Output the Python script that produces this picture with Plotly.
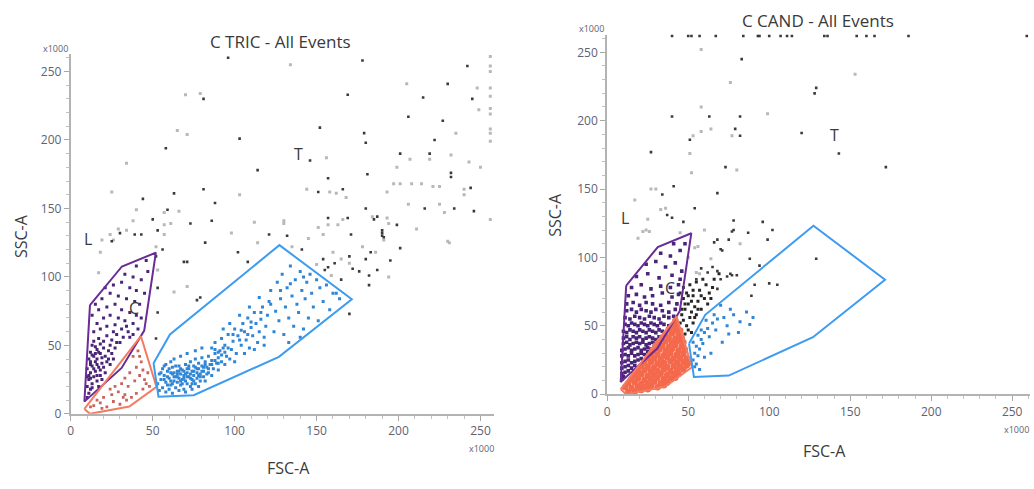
import plotly.graph_objects as go

W, H = 1034, 489

# ---------------- gates (data units x1000) ----------------
gate_L = [(11.7, 79.4), (31.2, 107.6), (51.9, 117.7), (44.8, 60.8), (31, 33.5), (8.3, 8.9)]
gate_C = [(8.3, 3.6), (42.8, 56.7), (52.3, 19.7), (35.7, 5.3), (11.7, 0)]
gate_T = [(50.5, 37), (60.5, 58), (127.3, 123.2), (171.5, 83.7), (127, 41.6), (75, 13.6), (53.5, 12.5)]

tick_vals = [0, 50, 100, 150, 200, 250]
tick_text = ["0", "50", "100", "150", "200", "250"]

# ---------------- C TRIC (left) ----------------
tric_purple = [(10,12),(11,15),(12,18),(10,20),(13,22),(11,25),(14,27),(12,30),(10,33),(13,35),(15,38),(11,40),
    (14,42),(12,45),(16,47),(13,50),(17,20),(16,24),(18,28),(15,31),(17,34),(19,37),(16,40),(18,44),(20,48),
    (14,53),(17,55),(19,25),(21,30),(20,34),(22,38),(21,42),(23,46),(24,50),(20,53),(22,57),(25,54),(26,60),
    (11,28),(12,36),(13,43),(15,44),(16,36),(18,32),(14,33),(12,26),(13,19),(16,28),(19,41),(23,40),(25,44),
    (27,48),(28,52),(24,36),(26,40),(12,38),(10,27),(15,49),(17,45),(18,51),
    (14,60),(18,62),(22,64),(27,65),(31,62),(35,60),(16,66),(20,70),(24,72),(29,70),(33,68),(38,66),(13,72),
    (17,76),(22,78),(27,80),(31,76),(36,74),(40,72),(19,84),(24,88),(29,86),(34,84),(39,82),(43,70),(42,80),
    (26,94),(31,96),(36,92),(40,90),(45,88),(33,102),(38,100),(43,98),(47,104),(40,108),(46,112),(21,92),
    (15,80),(28,58),(32,56),(36,56),(30,52),(34,64),(38,58),(41,62)]

tric_orange = [(14,6),(18,8),(22,5),(26,9),(30,7),(34,10),(20,12),(25,14),(29,16),(33,14),(37,12),(40,15),
    (44,18),(48,20),(27,20),(31,22),(35,20),(39,24),(42,28),(45,25),(36,30),(40,34),(43,38),(38,42),(41,46),
    (44,32),(47,30),(16,10),(24,18),(33,26),(12,5),(19,4),(46,22),(32,12),(42,42)]

tric_blue = [(53,22),(55,25),(56,19),(57,28),(58,23),(59,31),(60,18),(60,26),(61,21),(62,29),(62,34),(63,24),
    (64,27),(64,19),(65,31),(65,23),(66,26),(66,35),(67,21),(67,29),(68,25),(68,32),(69,18),(69,28),(70,24),
    (70,36),(71,30),(71,22),(72,27),(72,33),(73,20),(73,38),(74,25),(74,31),(75,28),(75,35),(76,22),(76,40),
    (77,30),(77,26),(78,33),(78,37),(79,24),(79,29),(80,35),(80,41),(81,31),(81,27),(82,38),(83,34),(84,30),
    (84,42),(85,36),(86,39),(87,33),(88,44),(89,37),(90,41),(91,46),(92,38),(58,36),(56,33),(54,29),(61,38),
    (63,40),(66,17),(70,16),(74,18),(78,20),(82,24),(86,28),(90,32),(94,36),(58,16),(62,15),(67,42),(71,44),
    (76,46),(80,48),(54,17),
    (57,25),(59,27),(61,24),(63,30),(65,27),(67,24),(69,31),(71,27),(73,29),(75,24),(77,33),(79,27),(81,34),
    (83,29),(60,33),(62,22),(64,35),(66,31),(68,22),(70,29),(72,35),(74,22),(76,34),(78,28),(80,31),(82,36),
    (84,33),(86,36),(88,39),(90,37),(92,43),(94,45),(96,48),(63,27),(65,29),(67,33),(69,26),(71,33),(73,26),
    (75,31),(59,21),(61,30),(55,30),(57,35),
    (86,48),(88,52),(90,45),(92,55),(94,50),(95,42),(96,58),(98,47),(99,53),(100,62),(101,44),(102,57),
    (104,50),(105,66),(106,60),(107,54),(108,70),(109,48),(110,63),(111,57),(112,74),(113,66),(114,52),
    (115,60),(116,69),(117,78),(118,56),(119,64),(120,72),(121,82),(93,62),(97,66),(103,72),(109,78),(115,85),
    (100,38),(106,44),(112,47),(118,50),(97,40),(88,47),(93,48),(99,58),(104,61),(110,67),(116,74),(103,54),
    (108,58),
    (122,90),(124,60),(125,75),(126,96),(127,68),(128,84),(129,102),(130,58),(131,78),(132,92),(133,70),
    (134,108),(135,86),(136,64),(137,98),(138,80),(139,74),(140,104),(141,90),(142,62),(143,84),(144,96),
    (145,70),(146,102),(147,88),(148,78),(150,98),(151,68),(152,92),(154,82),(156,94),(158,76),(160,88),
    (162,88),(164,84),(140,56),(133,52),(122,80),(128,90),(134,95),(142,100)]

tric_gray_dark = [(96,260),(178,258),(242,254),(81,230),(169,233),(230,241),(215,231),(245,230),(206,217),
    (227,214),(152,209),(103,201),(179,205),(180,198),(222,200),(58,194),(114,178),(146,185),(201,190),
    (219,190),(232,176),(232,173),(244,165),(181,175),(157,172),(166,164),(151,162),(63,161),(81,164),
    (88,154),(44,157),(59,149),(86,141),(73,139),(53,134),(50,142),(39,131),(43,131),(121,131),(132,130),
    (180,150),(185,142),(187,144),(190,130),(190,132),(190,134),(169,143),(171,131),(157,143),(199,138),
    (216,150),(234,150),(246,148),(191,129),(201,121),(183,118),(170,115),(182,101),(182,94),(187,105),
    (161,110),(155,105),(157,107),(154,113),(170,73),(176,104),(180,113),(141,120),(102,118),(108,111),
    (71,111),(82,125),(79,85),(56,120),(52,115),(53,92),(53,74),(52,55),(69,111),(77,83),(25,126),(30,132),
    (165,98),(172,106),(195,112)]

tric_gray_light = [(134,255),(70,233),(79,234),(205,241),(248,238),(249,222),(65,207),(71,204),(235,205),
    (243,184),(250,180),(34,183),(156,187),(207,186),(219,186),(232,189),(240,164),(240,160),(256,142),
    (199,180),(201,168),(208,168),(214,168),(221,166),(225,166),(197,168),(162,161),(158,162),(144,164),
    (168,158),(193,162),(25,162),(103,160),(40,149),(57,147),(66,148),(57,138),(61,139),(57,131),(38,141),
    (29,135),(34,134),(24,131),(19,127),(26,127),(130,141),(130,139),(184,144),(193,143),(194,139),(163,138),
    (166,142),(157,138),(151,136),(154,131),(206,153),(211,135),(225,153),(228,147),(231,125),(230,126),
    (191,127),(186,118),(170,110),(194,100),(165,113),(159,101),(150,109),(178,122),(114,125),(63,89),
    (52,122),(53,105),(71,93),(17,103),(18,118),(256,261),(256,254),(256,250),(256,238),(256,232),(256,223),
    (256,219),(256,208),(256,205),(256,199),(160,118),(145,128),(135,122),(98,132),(112,140)]

# ---------------- C CAND (right) ----------------
cand_top_row_x = [40, 50, 52, 57, 67, 84, 93, 94, 100, 107, 111, 114, 134, 136, 154, 160, 165, 186, 259]
cand_top_row_y = 262

cand_gray_dark = [(83,245),(129,224),(128,220),(40,203),(63,203),(82,203),(79,194),(82,189),(51,186),
    (120,191),(143,176),(27,177),(73,166),(172,166),(41,152),(34,146),(68,147),(37,131),(40,129),(47,126),
    (54,136),(78,127),(96,126),(77,119),(68,113),(66,111),(71,105),(88,99),(65,93),(68,90),(74,86),(77,87),
    (91,80),(70,106),(75,113),(78,120),(87,118),(99,113),(102,120),(94,94),(100,81),(105,80),(89,72),(80,87),
    (76,88),(70,84),(62,89),(58,92),(55,84),(68,77),(129,99)]

cand_gray_light = [(58,252),(153,234),(76,228),(58,210),(99,205),(58,192),(64,194),(77,189),(53,189),
    (51,176),(80,164),(52,162),(27,150),(30,150),(17,142),(33,135),(36,136),(25,128),(22,119),(24,120),
    (26,119),(19,114),(54,107),(56,108),(55,89),(57,88),(64,99),(82,110),(60,120),(45,118),(50,100)]

cand_black = [(46,58),(48,62),(50,66),(52,60),(54,64),(47,70),(49,74),(53,72),(56,68),(58,62),(57,76),
    (60,70),(61,80),(63,74),(65,78),(47,54),(49,50),(51,56),(53,52),(55,58),(48,44),(50,47),(45,52),(52,45),
    (47,78),(51,80),(55,82),(59,84),(50,72),(62,66),(64,70),(48,66),(52,68),(46,62),(54,56),(56,62),(45,74),
    (53,76),(58,72),(66,84),(69,88)]

cand_blue = [(53,25),(54,30),(55,35),(53,38),(56,28),(57,33),(55,22),(58,40),(56,43),(59,37),(60,45),
    (57,18),(54,20),(62,48),(63,42),(65,52),(66,58),(68,55),(70,65),(72,56),(76,62),(75,44),(81,45),(82,53),
    (88,51),(90,56),(71,38),(64,30),(60,27),(67,47),(61,54),(58,47),(74,50),(78,58),(86,60)]

cand_purple = [(9,11),(10,13),(9,15),(11,16),(13,17),(9,19),(11,20),(13,21),(15,19),(17,21),
    (9,23),(11,24),(13,25),(15,23),(17,24),(19,25),(21,26),
    (9,28),(11,29),(13,28),(15,30),(17,28),(19,29),(21,30),(23,29),(25,31),
    (9,32),(11,33),(13,34),(15,32),(17,33),(19,34),(21,32),(23,33),(25,34),(27,33),(29,35),
    (10,37),(12,38),(14,36),(16,37),(18,38),(20,37),(22,38),(24,36),(26,37),(28,38),(30,37),(32,38),
    (10,41),(12,42),(14,40),(16,42),(18,41),(20,42),(22,40),(24,41),(26,42),(28,41),(30,40),(32,42),(34,41),
    (10,46),(12,45),(14,47),(16,46),(18,45),(20,47),(22,46),(24,45),(26,47),(28,46),(30,45),(32,47),(34,46),(36,45),
    (11,51),(13,50),(15,52),(17,51),(19,50),(21,52),(23,51),(25,50),(27,52),(29,51),(31,50),(33,52),(35,51),(38,50),
    (11,56),(14,55),(17,57),(20,56),(23,55),(26,57),(29,56),(32,55),(35,57),(38,56),(41,57),
    (12,61),(15,62),(18,60),(21,62),(24,61),(27,60),(30,62),(34,61),(38,60),(42,62),
    (12,66),(16,67),(20,65),(24,67),(28,66),(33,65),(38,67),(43,66),
    (13,72),(18,73),(23,71),(28,72),(34,74),(40,71),(44,73),
    (15,78),(21,80),(27,77),(33,79),(39,78),(44,80),
    (18,86),(25,88),(32,85),(40,87),(45,84),(24,95),(30,97),(36,93),(42,96),(46,90),(33,103),(39,101),
    (45,105),(48,110),(41,110)]

cand_orange = [(13,1.5),(17,2),(21,3),(25,3.5),
    (11,5),(15,4.5),(19,5.5),(23,5),(27,6),(31,5),(35,6.5),
    (13,8),(17,8.5),(21,7.5),(25,8),(29,9),(33,8),(37,8.5),
    (15,11),(19,11.5),(23,10.5),(27,11),(31,12),(35,11),(39,11.5),(42,12),
    (17,14),(21,14.5),(25,13.5),(29,14),(33,15),(37,14),(41,14.5),(44,15),
    (19,17),(23,17.5),(27,16.5),(31,17),(35,18),(39,17),(43,17.5),(47,18),
    (21,20.5),(25,20),(29,19.5),(33,21),(37,20),(41,20.5),(45,20),(49,21),
    (23,23),(27,23.5),(31,22.5),(35,23),(39,24),(43,23),(47,23.5),(50,23),
    (25,26.5),(29,26),(33,25.5),(37,27),(41,26),(45,26.5),(49,26),
    (27,29.5),(31,29),(35,28.5),(39,30),(43,29),(47,29.5),
    (28,32),(32,32.5),(36,31.5),(40,33),(44,32),(48,32.5),
    (30,35.5),(34,35),(38,34.5),(42,36),(46,35),
    (32,38),(36,38.5),(40,37.5),(44,39),(47,38),
    (34,41.5),(38,41),(42,40.5),(46,41),
    (36,44),(40,44.5),(44,43.5),
    (38,47.5),(42,47),(45,46.5),
    (40,50),(43,50.5),(42,53.5)]

# ---------------- styling ----------------
C_PURPLE_LINE = "#6a2c96"
C_ORANGE_LINE = "#f47a62"
C_BLUE_LINE = "#3d9cf0"
C_PURPLE_PT = "#4a2478"
C_ORANGE_PT_L = "#c9645a"
C_ORANGE_PT_R = "#f4694c"
C_BLUE_PT = "#2f86d6"
FONT = "Open Sans"

fig = go.Figure()


def xy(pairs):
    return [p[0] for p in pairs], [p[1] for p in pairs]


def pts(pairs, color, size, axis, symbol="square", opacity=1.0):
    xs, ys = xy(pairs)
    fig.add_trace(go.Scatter(x=xs, y=ys, mode="markers", xaxis=axis[0], yaxis=axis[1],
                             marker=dict(color=color, size=size, symbol=symbol, line=dict(width=0)),
                             opacity=opacity, hoverinfo="skip", showlegend=False))


def gate(pairs, color, axis):
    xs, ys = xy(pairs + pairs[:1])
    fig.add_trace(go.Scatter(x=xs, y=ys, mode="lines", xaxis=axis[0], yaxis=axis[1],
                             line=dict(color=color, width=2), hoverinfo="skip", showlegend=False))


A1 = ("x", "y")
A2 = ("x2", "y2")

# left panel
pts(tric_gray_light, "#b8b8b8", 3, A1)
pts(tric_gray_dark, "#3a3a3a", 2.6, A1)
pts(tric_orange, C_ORANGE_PT_L, 2.8, A1)
pts(tric_purple, C_PURPLE_PT, 3, A1)
pts(tric_blue, C_BLUE_PT, 3, A1)
gate(gate_L, C_PURPLE_LINE, A1)
gate(gate_C, C_ORANGE_LINE, A1)
gate(gate_T, C_BLUE_LINE, A1)

# right panel
pts(cand_gray_light, "#b8b8b8", 3, A2)
pts(cand_gray_dark, "#3a3a3a", 2.6, A2)
pts([(x, cand_top_row_y) for x in cand_top_row_x], "#3a3a3a", 2.6, A2)
pts(cand_black, "#262626", 3, A2)
pts(cand_purple, C_PURPLE_PT, 3.6, A2)
pts(cand_orange, C_ORANGE_PT_R, 6.5, A2, symbol="circle")
pts(cand_blue, C_BLUE_PT, 3, A2)
gate(gate_L, C_PURPLE_LINE, A2)
gate(gate_C, C_ORANGE_LINE, A2)
gate(gate_T, C_BLUE_LINE, A2)


def axis_style(rng, dom, anchor):
    return dict(range=rng, domain=dom, anchor=anchor, showgrid=False, zeroline=False,
                showline=True, linecolor="#b3b3b3", linewidth=2, mirror=False,
                ticks="outside", ticklen=5, tickwidth=1, tickcolor="#a8a8a8",
                tickvals=tick_vals, ticktext=tick_text,
                tickfont=dict(family=FONT, size=12, color="#5e6272"),
                minor=dict(tickmode="linear", tick0=0, dtick=10, ticks="outside", ticklen=3,
                           tickwidth=1, tickcolor="#c2c2c2"),
                fixedrange=True)


def px(sx):
    return sx / W


def py(sy):
    return 1 - sy / H


fig.update_layout(
    width=W, height=H, margin=dict(l=0, r=0, t=0, b=0),
    paper_bgcolor="white", plot_bgcolor="white", showlegend=False,
    xaxis=axis_style([0, 258], [px(68), px(492)], "y"),
    yaxis=axis_style([0, 263], [py(420.7), py(54.6)], "x"),
    xaxis2=axis_style([0, 261], [px(606), px(1030)], "y2"),
    yaxis2=axis_style([0, 263], [py(400.7), py(35.1)], "x2"),
)


def ann(text, x, y, size, color="#3a3a3a", angle=0, xanchor="center"):
    fig.add_annotation(text=text, x=px(x), y=py(y), xref="paper", yref="paper",
                       showarrow=False, xanchor=xanchor, yanchor="middle", textangle=angle,
                       font=dict(family=FONT, size=size, color=color))


# titles
ann("C TRIC - All Events", 278.5, 42, 17)
ann("C CAND - All Events", 817.5, 21, 17)
# axis titles
ann("FSC-A", 286, 476, 16)
ann("FSC-A", 824, 459, 16)
ann("SSC-A", 18, 240, 16, angle=-90)
ann("SSC-A", 554, 218, 16, angle=-90)
# x1000 labels
ann("x1000", 67, 49, 9, color="#5e6272", xanchor="right")
ann("x1000", 605, 29, 9, color="#5e6272", xanchor="right")
ann("x1000", 494, 456, 9, color="#5e6272", xanchor="right")
ann("x1000", 1031, 437, 9, color="#5e6272", xanchor="right")
# gate letters
ann("L", 85, 243, 16)
ann("C", 131.5, 313, 16)
ann("T", 296.5, 157, 16)
ann("L", 623.5, 222, 16)
ann("C", 668.5, 293, 16)
ann("T", 833.5, 137, 16)

# the page's default 8px body margin would push the fixed-size figure off the window
fig.write_html("out.html", config={"displayModeBar": False},
               post_script="document.body.style.margin='0px';")
